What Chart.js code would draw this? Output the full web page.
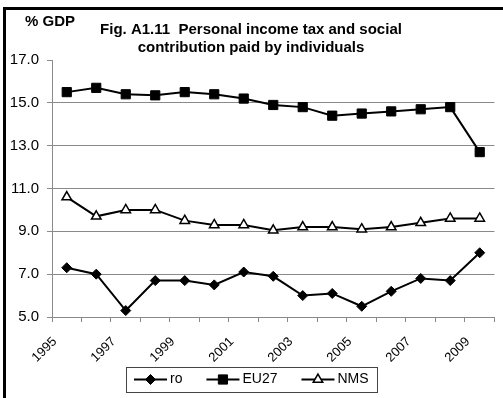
<!DOCTYPE html>
<html>
<head>
<meta charset="utf-8">
<script src="https://cdn.jsdelivr.net/npm/chart.js@4.4.1/dist/chart.umd.min.js"></script>
<style>
  html, body { margin: 0; padding: 0; background: #fff; }
</style>
</head>
<body>
<canvas id="taxChart" width="503" height="398"></canvas>
<script>
const years = ["1995", "1996", "1997", "1998", "1999", "2000", "2001", "2002",
  "2003", "2004", "2005", "2006", "2007", "2008", "2009"];
const roValues = [7.3, 7.0, 5.3, 6.7, 6.7, 6.5, 7.1, 6.9, 6.0, 6.1, 5.5, 6.2, 6.8, 6.7, 8.0];
const eu27Values = [15.5, 15.7, 15.4, 15.35, 15.5, 15.4, 15.2, 14.9, 14.8, 14.4, 14.5, 14.6, 14.7, 14.8, 12.7];
const nmsValues = [10.6, 9.7, 10.0, 10.0, 9.5, 9.3, 9.3, 9.05, 9.2, 9.2, 9.1, 9.2, 9.4, 9.6, 9.6];
const titleLines = ["Fig. A1.11  Personal income tax and social", "contribution paid by individuals"];
const unitLabel = "% GDP";

const FONT = "'Liberation Sans', Arial, sans-serif";
const gridGray = "#8a8a8a";
Chart.defaults.font.family = FONT;

// frame, heading and the boxed legend under the axis
const decorations = {
  id: "decorations",
  beforeDraw(chart) {
    const ctx = chart.ctx;
    ctx.save();
    ctx.fillStyle = "#fff";
    ctx.fillRect(0, 0, chart.width, chart.height);
    ctx.fillStyle = "#000";
    ctx.fillRect(3, 7, chart.width - 3, 3);
    ctx.fillRect(3, 7, 3, chart.height - 7);

    ctx.textBaseline = "middle";
    ctx.textAlign = "left";
    ctx.font = "bold 15px " + FONT;
    ctx.fillText(unitLabel, 25, 22);
    ctx.textAlign = "center";
    ctx.font = "bold 15px " + FONT;
    titleLines.forEach((t, i) => ctx.fillText(t, 251, 30 + i * 18));
    ctx.restore();
  },
  afterDraw(chart) {
    const ctx = chart.ctx;
    ctx.save();
    ctx.font = "14px " + FONT;
    const sample = 33, gapText = 3, gapItem = 24, padX = 8, boxH = 25;
    const items = chart.data.datasets.map(ds => ({
      ds,
      w: sample + gapText + ctx.measureText(ds.label).width
    }));
    const total = items.reduce((s, it) => s + it.w, 0) + gapItem * (items.length - 1) + padX * 2;
    const left = Math.round((chart.width - total) / 2);
    const top = chart.height - 31;
    const cy = top + boxH / 2;

    ctx.strokeStyle = "#444";
    ctx.lineWidth = 1;
    ctx.strokeRect(left + 0.5, top + 0.5, Math.round(total), boxH);

    let x = left + padX;
    items.forEach(({ ds, w }) => {
      ctx.strokeStyle = ds.borderColor;
      ctx.lineWidth = ds.borderWidth;
      ctx.beginPath();
      ctx.moveTo(x, cy);
      ctx.lineTo(x + sample, cy);
      ctx.stroke();
      ctx.fillStyle = ds.pointBackgroundColor;
      ctx.strokeStyle = ds.pointBorderColor;
      ctx.lineWidth = ds.pointBorderWidth;
      Chart.helpers.drawPoint(ctx, {
        pointStyle: ds.pointStyle,
        radius: ds.pointRadius,
        rotation: 0,
        borderWidth: ds.pointBorderWidth
      }, x + sample / 2, cy);
      ctx.fillStyle = "#000";
      ctx.textAlign = "left";
      ctx.textBaseline = "middle";
      ctx.fillText(ds.label, x + sample + gapText, cy);
      x += w + gapItem;
    });
    ctx.restore();
  }
};

new Chart(document.getElementById("taxChart"), {
  type: "line",
  data: {
    labels: years,
    datasets: [
      {
        label: "ro",
        data: roValues,
        borderColor: "#000",
        borderWidth: 2,
        pointStyle: "rectRot",
        pointRadius: 5,
        pointBackgroundColor: "#000",
        pointBorderColor: "#000",
        pointBorderWidth: 1
      },
      {
        label: "EU27",
        data: eu27Values,
        borderColor: "#000",
        borderWidth: 2,
        pointStyle: "rect",
        pointRadius: 6.5,
        pointBackgroundColor: "#000",
        pointBorderColor: "#000",
        pointBorderWidth: 1
      },
      {
        label: "NMS",
        data: nmsValues,
        borderColor: "#000",
        borderWidth: 2,
        pointStyle: "triangle",
        pointRadius: 5.5,
        pointBackgroundColor: "#fff",
        pointBorderColor: "#000",
        pointBorderWidth: 1.5
      }
    ]
  },
  options: {
    responsive: false,
    animation: false,
    layout: { padding: { left: 0, right: 4, top: 60, bottom: 0 } },
    plugins: {
      legend: { display: false },
      title: { display: false },
      tooltip: { enabled: false }
    },
    scales: {
      x: {
        offset: true,
        grid: { offset: true, drawOnChartArea: false, color: gridGray, tickLength: 5 },
        border: { color: gridGray },
        ticks: {
          autoSkip: false,
          minRotation: 45,
          maxRotation: 45,
          color: "#000",
          font: { size: 13 },
          labelOffset: -12,
          padding: 12,
          callback(value, index) {
            return index % 2 === 0 ? this.getLabelForValue(value) : "";
          }
        },
        afterFit(scale) { scale.height = 81; }
      },
      y: {
        min: 5,
        max: 17,
        ticks: {
          stepSize: 2,
          color: "#000",
          font: { size: 15 },
          padding: 8,
          callback: v => v.toFixed(1)
        },
        grid: {
          color: c => (c.tick && c.tick.value === 17 ? "rgba(0,0,0,0)" : gridGray),
          tickColor: gridGray,
          tickLength: 5
        },
        border: { color: gridGray },
        afterFit(scale) { scale.width = 52; }
      }
    }
  },
  plugins: [decorations]
});
</script>
</body>
</html>
